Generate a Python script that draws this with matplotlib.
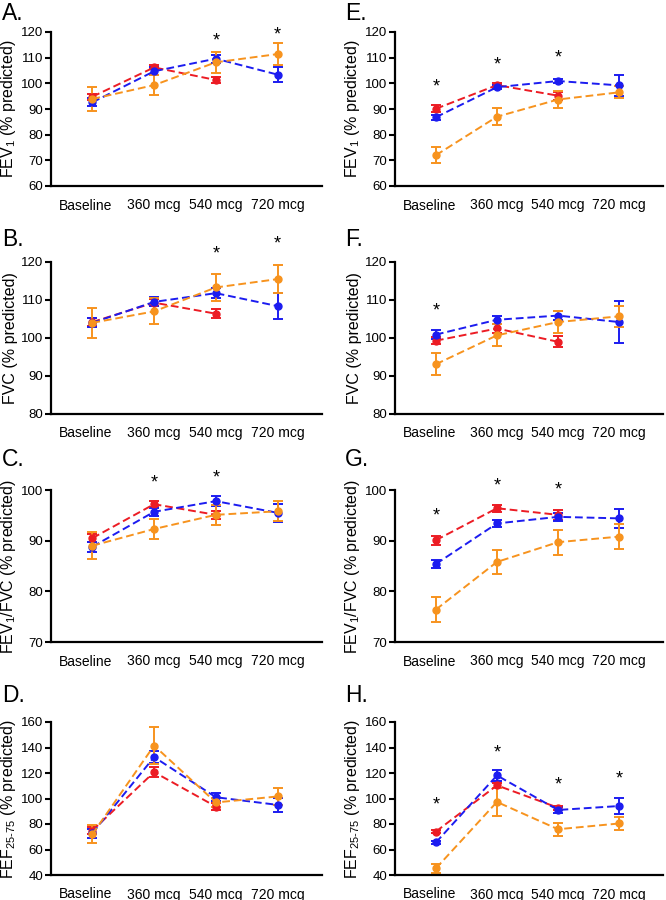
import numpy as np
import matplotlib
matplotlib.use("Agg")
import matplotlib.pyplot as plt

plt.rcParams["font.family"] = ["Liberation Sans", "DejaVu Sans"]
plt.rcParams["mathtext.fontset"] = "custom"
plt.rcParams["mathtext.rm"] = "Liberation Sans"
plt.rcParams["mathtext.it"] = "Liberation Sans"
plt.rcParams["xtick.major.pad"] = 9
plt.rcParams["xtick.major.size"] = 0
plt.rcParams["ytick.major.pad"] = 1.5

doses = ["Baseline", "360 mcg", "540 mcg", "720 mcg"]
RED, BLUE, ORANGE = "#ec1c24", "#1c1cf0", "#f7931e"

# left column: A-D, right column: E-H.  red has no 720 mcg point
a_red = [94.8, 106.2, 101.3];          a_red_err = [1.2, 0.8, 1.0]
a_blue = [92.6, 104.7, 109.6, 103.4];  a_blue_err = [1.5, 1.5, 1.5, 3.0]
a_orange = [93.9, 99.3, 108.2, 111.4]; a_orange_err = [4.8, 4.0, 4.0, 4.2]
a_star_x = [2, 3];                     a_star_y = [116.5, 119.0]

b_red = [104.2, 109.3, 106.4];           b_red_err = [1.0, 1.0, 1.2]
b_blue = [104.0, 109.5, 111.8, 108.4];   b_blue_err = [1.2, 1.2, 1.3, 3.4]
b_orange = [104.0, 107.0, 113.3, 115.5]; b_orange_err = [3.9, 3.4, 3.5, 3.7]
b_star_x = [2, 3];                       b_star_y = [122.2, 124.8]

c_red = [90.5, 97.2, 95.1];          c_red_err = [0.8, 0.6, 0.8]
c_blue = [88.8, 95.7, 97.8, 95.5];   c_blue_err = [1.0, 0.8, 1.0, 1.8]
c_orange = [89.0, 92.3, 95.1, 95.8]; c_orange_err = [2.7, 2.0, 2.0, 2.0]
c_star_x = [1, 2];                   c_star_y = [101.3, 102.3]

d_red = [74.9, 120.7, 93.7];            d_red_err = [3.0, 4.0, 3.0]
d_blue = [72.8, 132.5, 101.0, 95.0];    d_blue_err = [3.5, 5.0, 3.0, 5.5]
d_orange = [72.0, 141.5, 96.9, 101.6];  d_orange_err = [7.0, 14.5, 3.5, 7.0]
d_star_x = [];                          d_star_y = []

e_red = [90.1, 99.3, 95.2];          e_red_err = [1.3, 1.0, 1.5]
e_blue = [86.8, 98.5, 100.9, 99.2];  e_blue_err = [1.0, 0.8, 0.8, 4.0]
e_orange = [72.0, 87.0, 93.7, 96.5]; e_orange_err = [3.2, 3.2, 3.2, 2.4]
e_star_x = [0, 1, 2];                e_star_y = [98.6, 107.3, 109.9]

f_red = [99.3, 102.5, 99.0];            f_red_err = [1.0, 1.2, 1.5]
f_blue = [100.9, 104.8, 105.9, 104.2];  f_blue_err = [1.1, 1.1, 1.2, 5.6]
f_orange = [93.1, 100.7, 104.2, 105.7]; f_orange_err = [2.9, 2.9, 2.9, 2.7]
f_star_x = [0];                         f_star_y = [107.2]

g_red = [90.1, 96.4, 95.1];          g_red_err = [0.9, 0.7, 1.0]
g_blue = [85.4, 93.4, 94.7, 94.4];   g_blue_err = [0.8, 0.7, 0.8, 1.9]
g_orange = [76.4, 85.8, 89.7, 90.8]; g_orange_err = [2.4, 2.4, 2.5, 2.5]
g_star_x = [0, 1, 2];                g_star_y = [94.9, 100.7, 100.1]

h_red = [74.1, 110.3, 92.8];          h_red_err = [1.0, 2.0, 1.5]
h_blue = [65.5, 118.1, 91.0, 94.1];   h_blue_err = [1.5, 4.0, 2.0, 6.2]
h_orange = [45.2, 97.3, 75.9, 80.4];  h_orange_err = [3.5, 11.0, 5.0, 4.8]
h_star_x = [0, 1, 2, 3];              h_star_y = [94.7, 135.8, 110.3, 115.5]

fev1_lab = "FEV$_1$ (% predicted)"
fvc_lab = "FVC (% predicted)"
ratio_lab = "FEV$_1$/FVC (% predicted)"
fef_lab = "FEF$_{25\u201075}$ (% predicted)"

panels = [
    ("A.", a_red, a_red_err, a_blue, a_blue_err, a_orange, a_orange_err, a_star_x, a_star_y, fev1_lab, (60, 120, 10)),
    ("B.", b_red, b_red_err, b_blue, b_blue_err, b_orange, b_orange_err, b_star_x, b_star_y, fvc_lab, (80, 120, 10)),
    ("C.", c_red, c_red_err, c_blue, c_blue_err, c_orange, c_orange_err, c_star_x, c_star_y, ratio_lab, (70, 100, 10)),
    ("D.", d_red, d_red_err, d_blue, d_blue_err, d_orange, d_orange_err, d_star_x, d_star_y, fef_lab, (40, 160, 20)),
    ("E.", e_red, e_red_err, e_blue, e_blue_err, e_orange, e_orange_err, e_star_x, e_star_y, fev1_lab, (60, 120, 10)),
    ("F.", f_red, f_red_err, f_blue, f_blue_err, f_orange, f_orange_err, f_star_x, f_star_y, fvc_lab, (80, 120, 10)),
    ("G.", g_red, g_red_err, g_blue, g_blue_err, g_orange, g_orange_err, g_star_x, g_star_y, ratio_lab, (70, 100, 10)),
    ("H.", h_red, h_red_err, h_blue, h_blue_err, h_orange, h_orange_err, h_star_x, h_star_y, fef_lab, (40, 160, 20)),
]

W, H = 666, 900
fig = plt.figure(figsize=(W / 100, H / 100), dpi=100)
col_x = [(51, 322), (395, 663)]
row_y = [(32, 186), (262, 414), (490, 642), (722, 875)]
letter_x = [2, 345]
letter_y = [13, 240, 459, 696]
# baseline label sits a bit left of its point in the original (ticks are hidden)
label_pos = [-0.11, 1, 2, 3]

for i, (letter, r, re, b, be, o, oe, sx, sy, ylab, (y0, y1, ys)) in enumerate(panels):
    col, row = divmod(i, 4)
    xl, xr = col_x[col]
    yt, yb = row_y[row]
    ax = fig.add_axes([xl / W, 1 - yb / H, (xr - xl) / W, (yb - yt) / H])
    for vals, errs, c in [(r, re, RED), (b, be, BLUE), (o, oe, ORANGE)]:
        x = np.arange(len(vals))
        ax.errorbar(x, vals, yerr=errs, color=c, ls=(0, (4, 2)), lw=1.4,
                    marker="o", ms=5, capsize=3.5, elinewidth=1.4, capthick=1.4)
    for x, y in zip(sx, sy):
        ax.text(x, y, "*", ha="center", va="center", fontsize=13)
    ax.set_xlim(-0.67, 3.72)
    ax.set_ylim(y0, y1)
    ax.set_yticks(np.arange(y0, y1 + 1, ys))
    ax.set_xticks(label_pos)
    ax.set_xticklabels(doses, fontsize=10)
    ax.tick_params(axis="y", length=4, width=1.5, labelsize=9.5)
    for s in ["top", "right"]:
        ax.spines[s].set_visible(False)
    for s in ["left", "bottom"]:
        ax.spines[s].set_linewidth(1.6)
    ax.set_ylabel(ylab, fontsize=11.5, labelpad=2)
    fig.text(letter_x[col] / W, 1 - letter_y[row] / H, letter, fontsize=16.5, ha="left", va="center")

fig.savefig("out.png", dpi=100)
